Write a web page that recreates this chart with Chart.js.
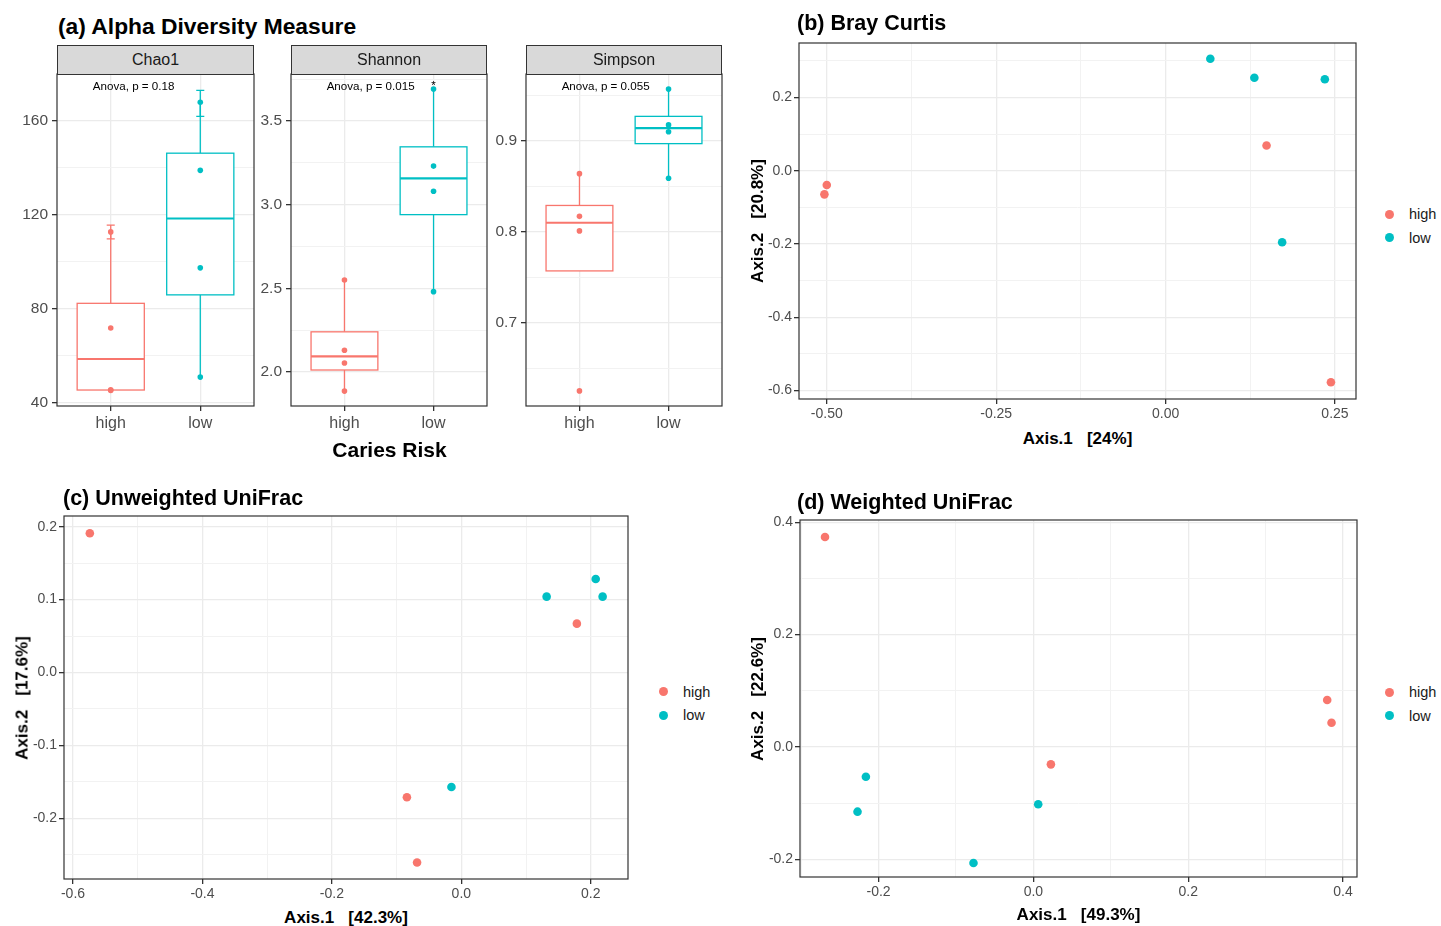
<!DOCTYPE html>
<html>
<head>
<meta charset="utf-8">
<script src="https://cdn.jsdelivr.net/npm/chart.js@4.4.1/dist/chart.umd.min.js"></script>
<style>
  body { margin: 0; width: 1441px; height: 926px; position: relative; overflow: hidden; background: #fff;
         font-family: 'Liberation Sans', Arial, sans-serif; }
  canvas { position: absolute; }
  .txt { position: absolute; white-space: pre; line-height: 1; color: #000; }
  .strip { position: absolute; box-sizing: border-box; background: #D9D9D9; border: 1px solid #333;
           font-size: 16px; color: #1A1A1A; display: flex; align-items: center; justify-content: center; }
  .dot { position: absolute; border-radius: 50%; }
</style>
</head>
<body>
<script>
// === データ ===
const GROUPS = ['high', 'low'];
const COLORS = ['#F8766D', '#00BFC4'];
const FONT = "'Liberation Sans', Arial, sans-serif";

// (a) Alpha diversity, per sample
const chao1High = [112.8, 71.9, 45.6, 45.3];
const chao1Low = [168, 139, 97.5, 51];
const chao1ErrHigh = [109.8, 115.7];   // se.chao1 bar on top sample
const chao1ErrLow = [162, 173];
// box: [lower whisker, q1, median, q3, upper whisker]
const chao1BoxHigh = [45.3, 45.5, 58.7, 82.4, 112.8];
const chao1BoxLow = [51, 86, 118.5, 146.3, 168];

const shannonHigh = [2.55, 2.13, 2.054, 1.886];
const shannonLow = [3.69, 3.23, 3.08, 2.48];
const shannonBoxHigh = [1.886, 2.012, 2.094, 2.24, 2.55];
const shannonBoxLow = [2.48, 2.94, 3.157, 3.345, 3.69];

const simpsonHigh = [0.864, 0.817, 0.801, 0.625];
const simpsonLow = [0.957, 0.9176, 0.910, 0.859];
const simpsonBoxHigh = [0.757, 0.757, 0.810, 0.829, 0.864];
const simpsonBoxLow = [0.859, 0.897, 0.914, 0.927, 0.957];

const anovaLabels = ['Anova, p = 0.18', 'Anova, p = 0.015', 'Anova, p = 0.055'];

// (b) Bray Curtis
const brayHighX = [0.149, -0.500, -0.5035, 0.244];
const brayHighY = [0.069, -0.039, -0.0645, -0.578];
const brayLowX = [0.066, 0.131, 0.235, 0.172];
const brayLowY = [0.306, 0.254, 0.250, -0.1955];

// (c) Unweighted UniFrac
const unwHighX = [-0.574, 0.1785, -0.0841, -0.0684];
const unwHighY = [0.191, 0.067, -0.171, -0.2606];
const unwLowX = [0.2076, 0.1318, 0.2183, -0.0153];
const unwLowY = [0.1282, 0.104, 0.104, -0.157];

// (d) Weighted UniFrac
const wHighX = [-0.2692, 0.3795, 0.3851, 0.0226];
const wHighY = [0.3737, 0.0836, 0.043, -0.031];
const wLowX = [-0.2164, -0.2272, 0.0062, -0.0774];
const wLowY = [-0.0531, -0.1152, -0.1021, -0.2066];

// === 共通ヘルパー ===
function place(plot, yW, xH, padT, padR) {
  const c = document.createElement('canvas');
  const w = yW + (plot.r - plot.l) + padR;
  const h = padT + (plot.b - plot.t) + xH;
  c.width = w; c.height = h;
  c.style.width = w + 'px'; c.style.height = h + 'px';
  c.style.left = (plot.l - yW) + 'px';
  c.style.top = (plot.t - padT) + 'px';
  document.body.appendChild(c);
  return c;
}

function axis(min, max, majors, minors, fmt, size, fixed, tickPad) {
  const isMajor = v => majors.some(m => Math.abs(m - v) < 1e-9);
  const all = majors.concat(minors).filter(v => v >= min && v <= max).sort((a, b) => a - b);
  return {
    type: 'linear', min, max,
    afterBuildTicks: s => { s.ticks = all.map(v => ({ value: v })); },
    afterFit: s => { if (s.isHorizontal()) s.height = fixed; else s.width = fixed; },
    ticks: { autoSkip: false, maxRotation: 0, padding: tickPad, color: '#4D4D4D',
             font: { family: FONT, size }, callback: v => isMajor(v) ? fmt(v) : '' },
    grid: {
      color: c => isMajor(c.tick.value) ? '#EBEBEB' : '#F2F2F2',
      lineWidth: c => isMajor(c.tick.value) ? 1.3 : 1,
      tickColor: c => isMajor(c.tick.value) ? '#333333' : 'rgba(0,0,0,0)',
      tickLength: 5, drawTicks: true
    },
    border: { display: false }
  };
}

function frame() {
  return { id: 'frame', afterDraw(chart) {
    const { ctx, chartArea: a } = chart;
    ctx.save();
    ctx.strokeStyle = '#333333'; ctx.lineWidth = 1.2;
    ctx.strokeRect(a.left, a.top, a.right - a.left, a.bottom - a.top);
    ctx.restore();
  }};
}

function boxes(stats, errs, note, star) {
  return {
    id: 'boxes',
    beforeDatasetsDraw(chart) {
      const { ctx, scales: { x, y } } = chart;
      const half = x.getPixelForValue(1.375) - x.getPixelForValue(1);
      const cap = x.getPixelForValue(1.045) - x.getPixelForValue(1);
      stats.forEach((s, i) => {
        const cx = x.getPixelForValue(i + 1);
        const [lo, q1, med, q3, hi] = s.map(v => y.getPixelForValue(v));
        ctx.save();
        ctx.strokeStyle = COLORS[i]; ctx.lineWidth = 1.3;
        ctx.beginPath();
        ctx.moveTo(cx, q3); ctx.lineTo(cx, hi);
        ctx.moveTo(cx, q1); ctx.lineTo(cx, lo);
        ctx.stroke();
        ctx.fillStyle = '#fff';
        ctx.fillRect(cx - half, q3, 2 * half, q1 - q3);
        ctx.strokeRect(cx - half, q3, 2 * half, q1 - q3);
        ctx.lineWidth = 2.2;
        ctx.beginPath(); ctx.moveTo(cx - half, med); ctx.lineTo(cx + half, med); ctx.stroke();
        if (errs && errs[i]) {
          const [e0, e1] = errs[i].map(v => y.getPixelForValue(v));
          ctx.lineWidth = 1.3;
          ctx.beginPath();
          ctx.moveTo(cx, e0); ctx.lineTo(cx, e1);
          ctx.moveTo(cx - cap, e0); ctx.lineTo(cx + cap, e0);
          ctx.moveTo(cx - cap, e1); ctx.lineTo(cx + cap, e1);
          ctx.stroke();
        }
        ctx.restore();
      });
    },
    afterDatasetsDraw(chart) {
      const { ctx, chartArea: a, scales: { x } } = chart;
      ctx.save();
      ctx.fillStyle = '#000';
      ctx.font = `11.6px ${FONT}`;
      ctx.textAlign = 'left'; ctx.textBaseline = 'middle';
      ctx.fillText(note, x.getPixelForValue(0.8), a.top + 13);
      if (star) {
        ctx.textAlign = 'center';
        ctx.fillText(star, x.getPixelForValue(2), a.top + 12);
      }
      ctx.restore();
    }
  };
}

function boxChart(plot, yW, yr, yMaj, yMin, yFmt, highVals, lowVals, stats, errs, note, star) {
  const canvas = place(plot, yW, 30, 16, 8);
  new Chart(canvas, {
    type: 'scatter',
    data: { datasets: [
      { data: highVals.map(v => ({ x: 1, y: v })), backgroundColor: COLORS[0] },
      { data: lowVals.map(v => ({ x: 2, y: v })), backgroundColor: COLORS[1] }
    ]},
    options: {
      responsive: false, animation: false, events: [],
      layout: { padding: { top: 16, right: 8, left: 0, bottom: 0 } },
      elements: { point: { radius: 2.8, borderWidth: 0, hoverRadius: 2.8 } },
      plugins: { legend: { display: false }, tooltip: { enabled: false } },
      scales: {
        x: axis(0.4, 2.6, [1, 2], [], v => GROUPS[v - 1], 16, 30, 3),
        y: axis(yr[0], yr[1], yMaj, yMin, yFmt, 15.5, yW, 4)
      }
    },
    plugins: [boxes(stats, errs, note, star), frame()]
  });
}

function ordChart(plot, xr, yr, xMaj, xMin, yMaj, yMin, xDig, hx, hy, lx, ly) {
  const yW = 60;
  const canvas = place(plot, yW, 28, 14, 16);
  new Chart(canvas, {
    type: 'scatter',
    data: { datasets: [
      { data: hx.map((v, i) => ({ x: v, y: hy[i] })), backgroundColor: COLORS[0] },
      { data: lx.map((v, i) => ({ x: v, y: ly[i] })), backgroundColor: COLORS[1] }
    ]},
    options: {
      responsive: false, animation: false, events: [],
      layout: { padding: { top: 14, right: 16, left: 0, bottom: 0 } },
      elements: { point: { radius: 4.3, borderWidth: 0, hoverRadius: 4.3 } },
      plugins: { legend: { display: false }, tooltip: { enabled: false } },
      scales: {
        x: axis(xr[0], xr[1], xMaj, xMin, v => v.toFixed(xDig), 14, 28, 2),
        y: axis(yr[0], yr[1], yMaj, yMin, v => v.toFixed(1), 14, yW, 2)
      }
    },
    plugins: [frame()]
  });
}

// === 描画 ===
boxChart({ l: 57, r: 254, t: 74, b: 406 }, 45, [38.7, 180], [40, 80, 120, 160], [60, 100, 140],
  v => String(v), chao1High, chao1Low, [chao1BoxHigh, chao1BoxLow], [chao1ErrHigh, chao1ErrLow], anovaLabels[0]);
boxChart({ l: 291, r: 487, t: 74, b: 406 }, 40, [1.797, 3.78], [2.0, 2.5, 3.0, 3.5], [2.25, 2.75, 3.25, 3.75],
  v => v.toFixed(1), shannonHigh, shannonLow, [shannonBoxHigh, shannonBoxLow], null, anovaLabels[1], '*');
boxChart({ l: 526, r: 722, t: 74, b: 406 }, 38, [0.6084, 0.9736], [0.7, 0.8, 0.9], [0.65, 0.75, 0.85, 0.95],
  v => v.toFixed(1), simpsonHigh, simpsonLow, [simpsonBoxHigh, simpsonBoxLow], null, anovaLabels[2]);

ordChart({ l: 799, r: 1356, t: 43, b: 399 }, [-0.541, 0.281], [-0.6236, 0.349],
  [-0.5, -0.25, 0, 0.25], [-0.375, -0.125, 0.125], [-0.6, -0.4, -0.2, 0, 0.2], [-0.5, -0.3, -0.1, 0.1, 0.3], 2,
  brayHighX, brayHighY, brayLowX, brayLowY);
ordChart({ l: 64, r: 628, t: 516, b: 879 }, [-0.6139, 0.2575], [-0.2832, 0.2146],
  [-0.6, -0.4, -0.2, 0, 0.2], [-0.5, -0.3, -0.1, 0.1], [-0.2, -0.1, 0, 0.1, 0.2], [-0.25, -0.15, -0.05, 0.05, 0.15], 1,
  unwHighX, unwHighY, unwLowX, unwLowY);
ordChart({ l: 800, r: 1357, t: 520, b: 877 }, [-0.3015, 0.418], [-0.2315, 0.404],
  [-0.2, 0, 0.2, 0.4], [-0.3, -0.1, 0.1, 0.3], [-0.2, 0, 0.2, 0.4], [-0.1, 0.1, 0.3], 1,
  wHighX, wHighY, wLowX, wLowY);

// === テキスト類 ===
function text(str, x, y, size, opts = {}) {
  const d = document.createElement('div');
  d.className = 'txt';
  d.textContent = str;
  d.style.fontSize = size + 'px';
  if (opts.bold) d.style.fontWeight = 'bold';
  if (opts.color) d.style.color = opts.color;
  d.style.left = x + 'px'; d.style.top = y + 'px';
  let tf = opts.center ? 'translate(-50%,-50%)' : 'translateY(-50%)';
  if (opts.rotate) tf += ' rotate(-90deg)';
  d.style.transform = tf;
  document.body.appendChild(d);
}
function strip(str, l, r, t, b) {
  const d = document.createElement('div');
  d.className = 'strip';
  d.textContent = str;
  Object.assign(d.style, { left: l + 'px', top: t + 'px', width: (r - l) + 'px', height: (b - t + 1) + 'px' });
  document.body.appendChild(d);
}
function legend(x, y) {
  GROUPS.forEach((g, i) => {
    const d = document.createElement('div');
    d.className = 'dot';
    const r = 4.5;
    Object.assign(d.style, { left: (x - r) + 'px', top: (y + i * 23.5 - r) + 'px',
      width: 2 * r + 'px', height: 2 * r + 'px', background: COLORS[i] });
    document.body.appendChild(d);
    text(g, x + 20, y + i * 23.5, 14.5, { color: '#1A1A1A' });
  });
}

strip('Chao1', 57, 254, 45, 74);
strip('Shannon', 291, 487, 45, 74);
strip('Simpson', 526, 722, 45, 74);

text('(a) Alpha Diversity Measure', 58, 26, 22.8, { bold: true });
text('(b) Bray Curtis', 797, 24, 21.5, { bold: true });
text('(c) Unweighted UniFrac', 63, 499, 21.5, { bold: true });
text('(d) Weighted UniFrac', 797, 503, 21.5, { bold: true });

text('Caries Risk', 389.5, 449, 21, { bold: true, center: true });
text('Axis.1   [24%]', 1077.5, 437.5, 17, { bold: true, center: true });
text('Axis.2   [20.8%]', 757, 221, 17, { bold: true, center: true, rotate: true });
text('Axis.1   [42.3%]', 346, 917, 17, { bold: true, center: true });
text('Axis.2   [17.6%]', 21.5, 697.5, 17, { bold: true, center: true, rotate: true });
text('Axis.1   [49.3%]', 1078.5, 914, 17, { bold: true, center: true });
text('Axis.2   [22.6%]', 757, 698.5, 17, { bold: true, center: true, rotate: true });

legend(1389, 214);
legend(663, 691.5);
legend(1389, 692);
</script>
</body>
</html>
